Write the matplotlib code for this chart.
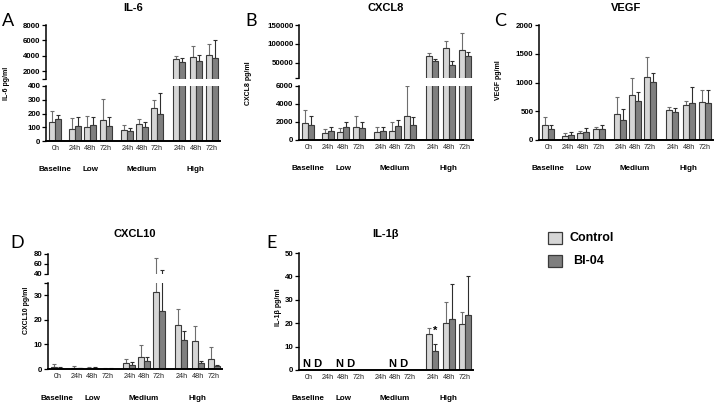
import numpy as np
import matplotlib
matplotlib.use('Agg')
import matplotlib.pyplot as plt
from matplotlib.patches import Rectangle

plt.rcParams['font.family'] = ['Liberation Sans', 'DejaVu Sans']

# data
time_labels = ['0h', '24h', '48h', '72h', '24h', '48h', '72h', '24h', '48h', '72h']
groups = ['Baseline', 'Low', 'Medium', 'High']
series = ['Control', 'BI-04']

il6_ctrl = [136, 84, 99, 150, 79, 121, 240, 3600, 3850, 4100]
il6_ctrl_sd = [79, 81, 81, 156, 37, 37, 61, 330, 1430, 1460]
il6_bi04 = [158, 106, 116, 109, 72, 101, 200, 3150, 3300, 3750]
il6_bi04_sd = [32, 67, 62, 64, 19, 37, 150, 540, 830, 2350]

cxcl8_ctrl = [1910, 790, 860, 1430, 860, 1050, 2630, 68000, 88000, 82700]
cxcl8_ctrl_sd = [1390, 450, 450, 1200, 640, 940, 3320, 6800, 19500, 45200]
cxcl8_bi04 = [1690, 975, 1390, 1310, 1010, 1540, 1650, 54400, 45600, 67700]
cxcl8_bi04_sd = [940, 455, 600, 680, 490, 640, 900, 7100, 8800, 11500]

vegf_ctrl = [260, 75, 121, 190, 451, 780, 1104, 526, 607, 653]
vegf_ctrl_sd = [145, 46, 41, 41, 300, 295, 341, 40, 75, 214]
vegf_bi04 = [190, 92, 145, 190, 347, 682, 1012, 491, 636, 642]
vegf_bi04_sd = [70, 53, 57, 70, 191, 156, 161, 64, 289, 225]

cxcl10_ctrl = [1.0, 0.5, 0.6, 0.2, 2.5, 5.0, 31.5, 17.8, 11.5, 4.2]
cxcl10_ctrl_sd = [1.0, 0.8, 0.4, 0.1, 1.5, 4.8, 40.5, 6.5, 6.0, 4.8]
cxcl10_bi04 = [0.6, 0.4, 0.5, 0.2, 1.8, 3.4, 23.5, 11.8, 2.5, 1.3]
cxcl10_bi04_sd = [0.3, 0.2, 0.2, 0.1, 1.0, 1.6, 24.5, 3.7, 0.8, 0.4]

nan = np.nan
il1b_ctrl = [nan, nan, nan, nan, nan, nan, nan, 15.2, 20.0, 19.5]
il1b_ctrl_sd = [nan, nan, nan, nan, nan, nan, nan, 2.7, 9.0, 5.2]
il1b_bi04 = [nan, nan, nan, nan, nan, nan, nan, 8.3, 21.7, 23.7]
il1b_bi04_sd = [nan, nan, nan, nan, nan, nan, nan, 2.8, 15.0, 16.3]

# layout
W, H = 714, 404
x_pos = np.array([0, 1.25, 2.25, 3.25, 4.65, 5.6, 6.55, 8.0, 9.05, 10.1])
group_pos = [0, 2.25, 5.6, 9.05]
bw = 0.39
LIGHT, DARK, EDGE = '#d6d6d6', '#7f7f7f', '#3a3a3a'
XLIM = (-0.6, 10.6)
PX = 15.5  # pixels per x unit

fig = plt.figure(figsize=(W / 100, H / 100), dpi=100)


def box(x0, x1, ytop, ybot):
    return [x0 / W, 1 - ybot / H, (x1 - x0) / W, (ybot - ytop) / H]


def bars(ax, c, csd, t, tsd):
    c, csd, t, tsd = map(np.asarray, (c, csd, t, tsd))
    z = np.zeros_like(c)
    ax.errorbar(x_pos - bw / 2, c, yerr=[z, csd], fmt='none', ecolor='#6e6e6e',
                elinewidth=0.8, capsize=1.6, capthick=0.8, zorder=1)
    ax.errorbar(x_pos + bw / 2, t, yerr=[z, tsd], fmt='none', ecolor='#2e2e2e',
                elinewidth=0.8, capsize=1.6, capthick=0.8, zorder=1)
    ax.bar(x_pos - bw / 2, c, bw, color=LIGHT, edgecolor=EDGE, lw=0.8, zorder=2)
    ax.bar(x_pos + bw / 2, t, bw, color=DARK, edgecolor=EDGE, lw=0.8, zorder=2)


def style(ax, ticks, labels, bottom=True):
    ax.set_xlim(*XLIM)
    for s in ['top', 'right']:
        ax.spines[s].set_visible(False)
    ax.spines['left'].set_linewidth(1.1)
    ax.spines['bottom'].set_linewidth(1.4)
    ax.spines['bottom'].set_visible(bottom)
    ax.set_yticks(ticks)
    ax.set_yticklabels(labels, fontsize=5.7, fontweight='bold')
    ax.tick_params(axis='y', length=3, width=0.9, pad=1)
    ax.tick_params(axis='x', length=0, pad=3)
    ax.patch.set_alpha(0)
    if bottom:
        ax.set_xticks(x_pos)
        ax.set_xticklabels(time_labels, fontsize=5.2, color='#222222')
    else:
        ax.set_xticks([])


def group_text(x_spine, ypix):
    for g, p in zip(groups, group_pos):
        xp = x_spine + (p - XLIM[0]) * PX
        fig.text(xp / W, 1 - ypix / H, g, ha='center', va='center',
                 fontsize=5.8, fontweight='bold')


def decorate(x_spine, title, ytitle, letter, lx, ly, ylabel, ylx, yly):
    cx = x_spine + (XLIM[1] - XLIM[0]) * PX / 2
    fig.text(cx / W, 1 - ytitle / H, title, ha='center', va='center', fontsize=8, fontweight='bold')
    fig.text(lx / W, 1 - ly / H, letter, ha='center', va='center', fontsize=13, family='Lato')
    fig.text(ylx / W, 1 - yly / H, ylabel, ha='center', va='center', rotation=90,
             fontsize=5, fontweight='bold')


def broken(x_spine, top, brk_top, brk_bot, bottom, up_lim, lo_lim, up_ticks, up_lbl, lo_ticks, lo_lbl,
           c, csd, t, tsd):
    x1 = x_spine + (XLIM[1] - XLIM[0]) * PX
    ax_u = fig.add_axes(box(x_spine, x1, top, brk_top))
    ax_l = fig.add_axes(box(x_spine, x1, brk_bot, bottom))
    bars(ax_u, c, csd, t, tsd)
    bars(ax_l, c, csd, t, tsd)
    ax_u.set_ylim(*up_lim)
    ax_l.set_ylim(*lo_lim)
    style(ax_u, up_ticks, up_lbl, bottom=False)
    style(ax_l, lo_ticks, lo_lbl)
    return ax_u, ax_l


def single(x_spine, top, bottom, ylim, ticks, c, csd, t, tsd):
    x1 = x_spine + (XLIM[1] - XLIM[0]) * PX
    ax = fig.add_axes(box(x_spine, x1, top, bottom))
    bars(ax, c, csd, t, tsd)
    ax.set_ylim(*ylim)
    style(ax, ticks, [str(v) for v in ticks])
    return ax


# A: IL-6
broken(46, 25, 78.7, 86, 141, (1000, 8000), (0, 400),
       [1000, 2000, 4000, 6000, 8000], ['', '2000', '4000', '6000', '8000'],
       [0, 100, 200, 300, 400], ['0', '100', '200', '300', '400'],
       il6_ctrl, il6_ctrl_sd, il6_bi04, il6_bi04_sd)
group_text(46, 170)
decorate(46, 'IL-6', 8, 'A', 8, 21, 'IL-6 pg/ml', 6, 83)

# B: CXCL8
broken(299, 25, 78, 86, 140, (10000, 150000), (0, 6000),
       [10000, 50000, 100000, 150000], ['', '50000', '100000', '150000'],
       [0, 2000, 4000, 6000], ['0', '2000', '4000', '6000'],
       cxcl8_ctrl, cxcl8_ctrl_sd, cxcl8_bi04, cxcl8_bi04_sd)
group_text(299, 169)
decorate(299, 'CXCL8', 8, 'B', 251, 21, 'CXCL8 pg/ml', 248, 83)

# C: VEGF
single(539, 25, 140, (0, 2000), [0, 500, 1000, 1500, 2000],
       vegf_ctrl, vegf_ctrl_sd, vegf_bi04, vegf_bi04_sd)
group_text(539, 169)
decorate(539, 'VEGF', 8, 'C', 500, 21, 'VEGF pg/ml', 498, 80)

# D: CXCL10
broken(48, 254, 274, 283, 369, (40, 80), (0, 35),
       [40, 60, 80], ['40', '60', '80'],
       [0, 10, 20, 30, 35], ['0', '10', '20', '30', ''],
       cxcl10_ctrl, cxcl10_ctrl_sd, cxcl10_bi04, cxcl10_bi04_sd)
group_text(48, 399)
decorate(48, 'CXCL10', 234, 'D', 17, 243, 'CXCL10 pg/ml', 26, 310)

# E: IL-1beta
axe = single(299, 253, 370, (0, 50), [0, 10, 20, 30, 40, 50],
             il1b_ctrl, il1b_ctrl_sd, il1b_bi04, il1b_bi04_sd)
group_text(299, 399)
decorate(299, 'IL-1\u03b2', 234, 'E', 272, 243, 'IL-1\u03b2 pg/ml', 279, 307)
for p in [0.25, 2.4, 5.8]:
    axe.text(p, 0.4, 'N D', ha='center', va='bottom', fontsize=8, fontweight='bold')
axe.text(x_pos[7] + bw / 2, 14.5, '*', ha='center', va='bottom', fontsize=8, fontweight='bold')

# legend
for i, (name, col) in enumerate(zip(series, [LIGHT, DARK])):
    yt = 232 + i * 23
    fig.patches.append(Rectangle((548 / W, 1 - (yt + 12) / H), 14 / W, 12 / H,
                                 facecolor=col, edgecolor=EDGE, lw=0.9, transform=fig.transFigure))
    fig.text((570 + i * 3) / W, 1 - (yt + 6) / H, name, ha='left', va='center',
             fontsize=9, fontweight='bold')

fig.savefig('out.png', dpi=100)
